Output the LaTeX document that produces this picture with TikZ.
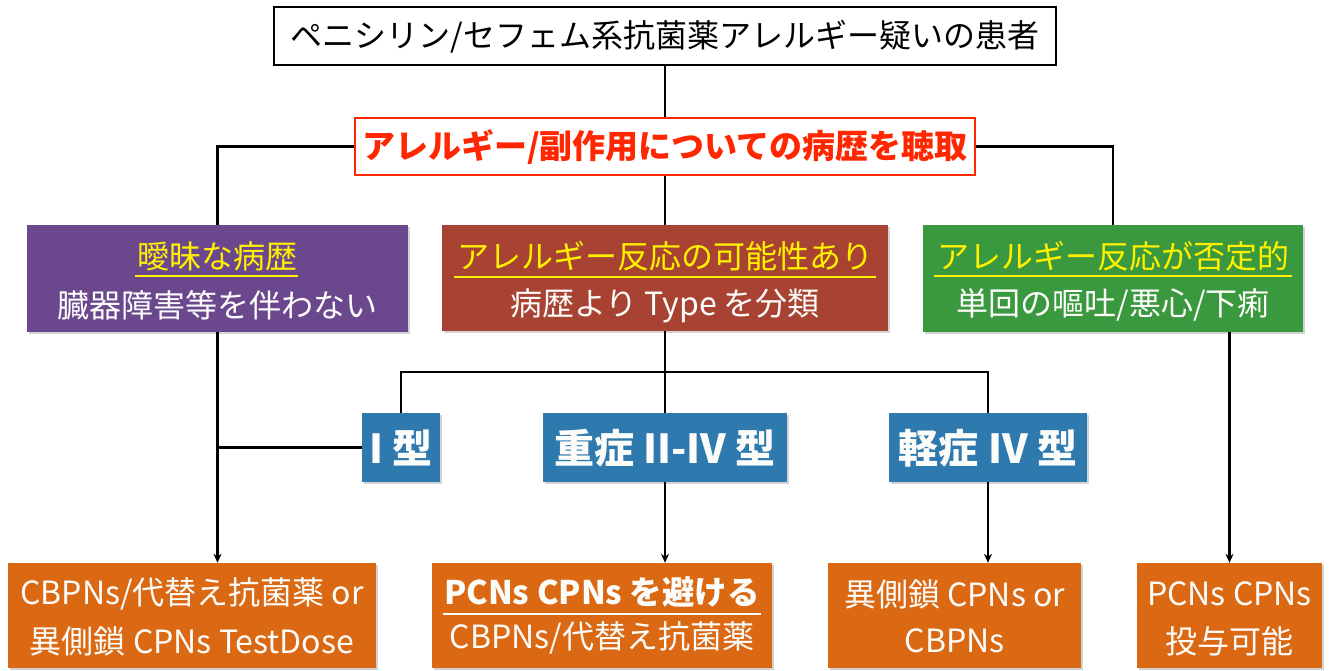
\documentclass[tikz,border=0pt]{standalone}
\usepackage{fontspec}
\setmainfont{Noto Sans CJK JP}
\usetikzlibrary{arrows.meta,shadows}
\definecolor{cpurple}{RGB}{107,72,142}
\definecolor{cbrown}{RGB}{168,66,50}
\definecolor{cgreen}{RGB}{58,152,62}
\definecolor{cblue}{RGB}{46,122,174}
\definecolor{corange}{RGB}{219,105,20}
\definecolor{cred}{RGB}{255,38,0}
\definecolor{cyellow}{RGB}{255,240,0}
\definecolor{cwhite}{RGB}{252,252,250}
\tikzset{
  fbox/.style={inner sep=0pt, drop shadow={shadow xshift=2pt,shadow yshift=-2pt,opacity=0.35}},
  txt/.style={inner sep=0pt, font=\fontsize{32}{36}\selectfont},
  btxt/.style={inner sep=0pt, font=\fontsize{33}{36}\selectfont\bfseries},
  ttxt/.style={inner sep=0pt, font=\fontsize{40}{44}\selectfont\bfseries},
  conn/.style={line width=2.2pt, black},
  arr/.style={conn, -{Stealth[length=9pt,width=8pt]}},
  uline/.style={line width=2pt}
}
\begin{document}
\begin{tikzpicture}[x=1pt,y=-1pt]
\useasboundingbox (0,0) rectangle (1330,670);
% boxes
\node[draw=black, line width=2.5pt, minimum width=782pt, minimum height=58pt, inner sep=0pt] (top) at (665,36) {};
\node[txt] (topT) at (665,37) {ペニシリン/セフェム系抗菌薬アレルギー疑いの患者};
\node[draw=cred, fill=white, line width=2.5pt, minimum width=620pt, minimum height=57pt, inner sep=0pt] (ask) at (665,146.5) {};
\node[btxt, text=cred] (askT) at (665,147) {アレルギー/副作用についての病歴を聴取};

\node[fbox, fill=cpurple, minimum width=381pt, minimum height=107pt] (vague) at (217.5,278.5) {};
\node[txt, text=cyellow] (vagueA) at (217,256) {曖昧な病歴};
\node[txt, text=cwhite] (vagueB) at (217,305) {臓器障害等を伴わない};
\draw[uline, cyellow] (135,276) -- (298,276);

\node[fbox, fill=cbrown, minimum width=446pt, minimum height=106pt] (pos) at (665,278) {};
\node[txt, text=cyellow] (posA) at (665,256) {アレルギー反応の可能性あり};
\node[txt, text=cwhite] (posB) at (665,306) {病歴より Type を分類};
\draw[uline, cyellow] (454,277) -- (876,277);

\node[fbox, fill=cgreen, minimum width=380pt, minimum height=107pt] (neg) at (1113,278.5) {};
\node[txt, text=cyellow] (negA) at (1113,256) {アレルギー反応が否定的};
\node[txt, text=cwhite] (negB) at (1113,305) {単回の嘔吐/悪心/下痢};
\draw[uline, cyellow] (934,276) -- (1292,276);

\node[fbox, fill=cblue, minimum width=78pt, minimum height=69pt] (t1) at (401,447.5) {};
\node[ttxt, text=cwhite] (t1T) at (401,448) {I 型};
\node[fbox, fill=cblue, minimum width=244pt, minimum height=69pt] (t2) at (665,447.5) {};
\node[ttxt, text=cwhite] (t2T) at (665,448) {重症 II-IV 型};
\node[fbox, fill=cblue, minimum width=198pt, minimum height=69pt] (t3) at (988,447.5) {};
\node[ttxt, text=cwhite] (t3T) at (988,448) {軽症 IV 型};

\node[fbox, fill=corange, minimum width=368pt, minimum height=105pt] (res1) at (192,615.5) {};
\node[txt, text=cwhite] (res1A) at (192,594) {CBPNs/代替え抗菌薬 or};
\node[txt, text=cwhite] (res1B) at (192,641) {異側鎖 CPNs TestDose};

\node[fbox, fill=corange, minimum width=340pt, minimum height=105pt] (res2) at (602,615.5) {};
\node[txt, font=\fontsize{32.5}{36}\selectfont\bfseries, text=cwhite] (res2A) at (602,592) {PCNs CPNs を避ける};
\node[txt, text=cwhite] (res2B) at (602,638) {CBPNs/代替え抗菌薬};
\draw[uline, cwhite] (443,614) -- (761,614);

\node[fbox, fill=corange, minimum width=253pt, minimum height=105pt] (res3) at (954.5,615.5) {};
\node[txt, text=cwhite] (res3A) at (954.5,594) {異側鎖 CPNs or};
\node[txt, text=cwhite] (res3B) at (954.5,641) {CBPNs};

\node[fbox, fill=corange, minimum width=185pt, minimum height=105pt] (res4) at (1229.5,615.5) {};
\node[txt, text=cwhite] (res4A) at (1229.5,594) {PCNs CPNs};
\node[txt, text=cwhite] (res4B) at (1229.5,641) {投与可能};

% connectors
\coordinate (j) at (665,372);
\draw[conn] (top.south) -- (ask.north);
\draw[conn] (ask.west) -| (vague.north);
\draw[conn] (ask.east) -| (neg.north);
\draw[conn] (ask.south) -- (pos.north);
\draw[conn] (pos.south) -- (t2.north);
\draw[conn] (t1.north) |- (j) -| (t3.north);
\draw[conn] (t1.west) -- (t1.west -| vague.south);
\draw[arr] (vague.south) -- (vague.south |- res1.north);
\draw[arr] (t2.south) -- (t2.south |- res2.north);
\draw[arr] (t3.south) -- (t3.south |- res3.north);
\draw[arr] (res4.north |- neg.south) -- (res4.north);
\end{tikzpicture}
\end{document}
